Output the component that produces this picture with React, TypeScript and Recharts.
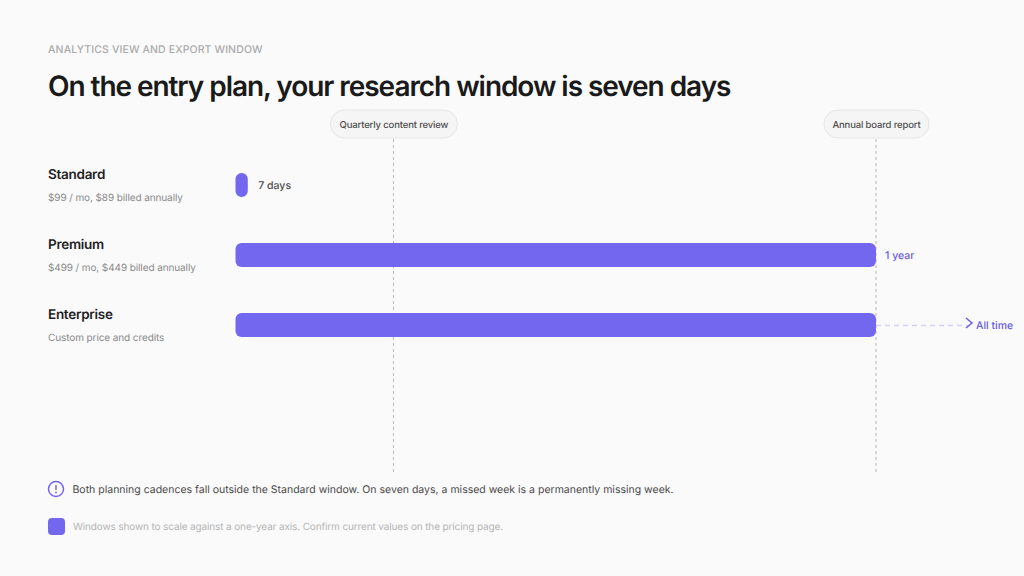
import { BarChart, Bar, XAxis, YAxis, ReferenceLine, LabelList } from "recharts";

const FONT = "Inter, sans-serif";
const PURPLE = "#7367f0";

const plans = ["Standard", "Premium", "Enterprise"];
const prices = ["$99 / mo, $89 billed annually", "$499 / mo, $449 billed annually", "Custom price and credits"];
const windowDays = [7, 365, 365];
const windowLabels = ["7 days", "1 year", "All time"];

const cadenceNames = ["Quarterly content review", "Annual board report"];
const cadenceDays = [90, 365];
const cadencePillWidths = [127, 105];

const data = plans.map((plan, i) => ({ plan, days: windowDays[i], label: windowLabels[i] }));

function PlanTick({ y, payload, index }: any) {
  const i = plans.indexOf(payload.value);
  return (
    <g key={index}>
      <text x={48} y={y - 6} fontFamily={FONT} fontSize={13.5} fontWeight={600} letterSpacing={-0.28} fill="#1f1f1f">
        {payload.value}
      </text>
      <text x={48} y={y + 15.5} fontFamily={FONT} fontSize={10} letterSpacing={-0.1} fill="#8a8a8a">
        {prices[i]}
      </text>
    </g>
  );
}

function BarLabel({ x, y, width, height, value }: any) {
  const end = x + width;
  const mid = y + height / 2;
  if (value === "7 days") {
    return (
      <text x={end + 10.5} y={mid + 4} fontFamily={FONT} fontSize={10.5} fontWeight={500} fill="#4a4a4a">
        {value}
      </text>
    );
  }
  if (value === "1 year") {
    return (
      <text x={end + 9} y={mid + 4} fontFamily={FONT} fontSize={10.5} fontWeight={500} fill="#6a5de0">
        {value}
      </text>
    );
  }
  return (
    <g>
      <line x1={end} y1={mid + 0.5} x2={end + 92} y2={mid + 0.5} stroke="#d5d0fb" strokeWidth={1.5} strokeDasharray="5 4" />
      <path
        d={`M${end + 90} ${mid - 7} L${end + 96} ${mid - 2} L${end + 90} ${mid + 3}`}
        fill="none"
        stroke="#6a5de0"
        strokeWidth={1.5}
      />
      <text x={end + 100} y={mid + 4} fontFamily={FONT} fontSize={10.5} fontWeight={500} fill="#6a5de0">
        {value}
      </text>
    </g>
  );
}

function PillLabel({ viewBox, name, width }: any) {
  const cx = viewBox.x + 0.5;
  return (
    <g>
      <rect x={cx - width / 2} y={110} width={width} height={28} rx={14} fill="#f5f5f5" stroke="#e6e6e6" />
      <text x={cx} y={127.5} textAnchor="middle" fontFamily={FONT} fontSize={9.5} fontWeight={500} letterSpacing={-0.15} fill="#4f4f4f">
        {name}
      </text>
    </g>
  );
}

export default function App() {
  return (
    <div style={{ position: "absolute", left: 0, top: 0, width: 1024, height: 576, background: "#fafafa", overflow: "hidden", fontFamily: FONT, textRendering: "geometricPrecision" }}>
      <div style={{ position: "absolute", left: 48, top: 43, fontSize: 10.5, fontWeight: 500, letterSpacing: 0.12, color: "#ababab", whiteSpace: "nowrap" }}>
        ANALYTICS VIEW AND EXPORT WINDOW
      </div>
      <div style={{ position: "absolute", left: 48, top: 69, fontSize: 28, fontWeight: 600, letterSpacing: -1.06, color: "#1a1a1a", whiteSpace: "nowrap" }}>
        On the entry plan, your research window is seven days
      </div>

      <div style={{ position: "absolute", left: 0, top: 0 }}>
        <BarChart
          width={1024}
          height={576}
          layout="vertical"
          data={data}
          margin={{ top: 139, right: 148, bottom: 104, left: 0 }}
          style={{ overflow: "visible" }}
        >
          <XAxis type="number" domain={[0, 365]} hide />
          <YAxis
            type="category"
            dataKey="plan"
            width={235.5}
            axisLine={false}
            tickLine={false}
            padding={{ top: 11, bottom: 112 }}
            tick={<PlanTick />}
          />
          {cadenceDays.map((d, i) => (
            <ReferenceLine
              key={cadenceNames[i]}
              x={d}
              stroke="#b5b5b5"
              strokeDasharray="3 3"
              zIndex={100}
              label={<PillLabel name={cadenceNames[i]} width={cadencePillWidths[i]} />}
            />
          ))}
          <Bar dataKey="days" fill={PURPLE} barSize={24} radius={6} isAnimationActive={false}>
            <LabelList dataKey="label" content={<BarLabel />} />
          </Bar>
        </BarChart>
      </div>

      <svg style={{ position: "absolute", left: 47, top: 480 }} width={18} height={18}>
        <circle cx={9} cy={9} r={7.5} fill="none" stroke={PURPLE} strokeWidth={1.5} />
        <line x1={9} y1={5} x2={9} y2={10} stroke={PURPLE} strokeWidth={1.5} />
        <circle cx={9} cy={12.5} r={0.9} fill={PURPLE} />
      </svg>
      <div style={{ position: "absolute", left: 72.5, top: 482.5, fontSize: 10.5, color: "#4a4a4a", whiteSpace: "nowrap" }}>
        Both planning cadences fall outside the Standard window. On seven days, a missed week is a permanently missing week.
      </div>
      <div style={{ position: "absolute", left: 48, top: 518, width: 17, height: 17, borderRadius: 4, background: PURPLE }} />
      <div style={{ position: "absolute", left: 73, top: 520.8, fontSize: 10, letterSpacing: -0.13, color: "#b5b5b5", whiteSpace: "nowrap" }}>
        Windows shown to scale against a one-year axis. Confirm current values on the pricing page.
      </div>
    </div>
  );
}
